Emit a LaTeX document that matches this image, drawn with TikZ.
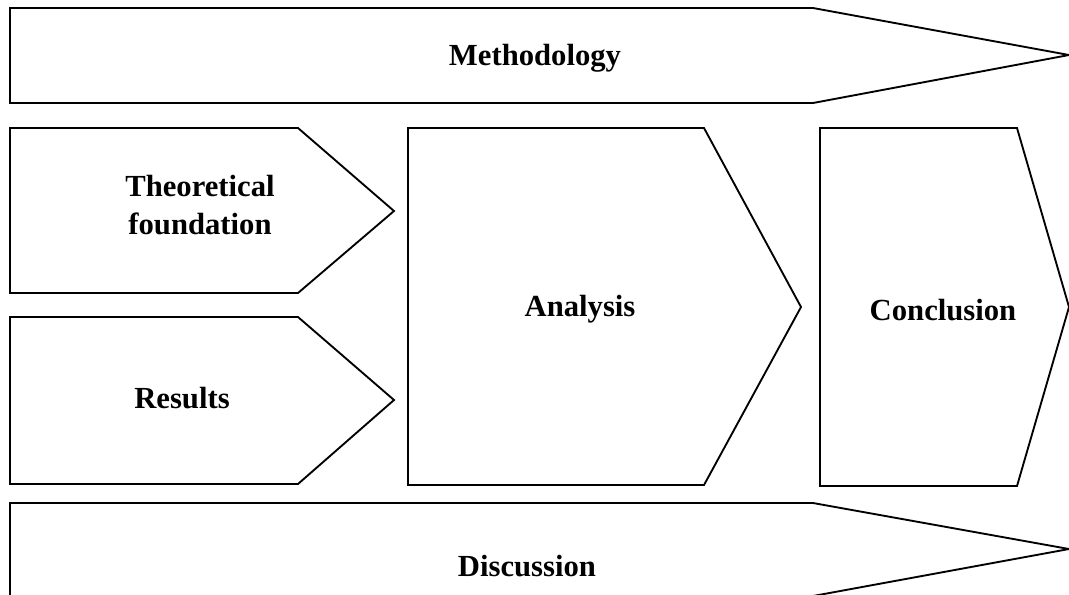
\documentclass[tikz,border=0pt]{standalone}
\usepackage{fontspec}
\setmainfont{Liberation Serif}
\begin{document}
\begin{tikzpicture}[x=0.75pt,y=-0.75pt,
  blockshape/.style={draw=black,line width=1.4pt,fill=white,line join=miter},
  label/.style={font=\fontsize{23}{29}\selectfont\bfseries,align=center,inner sep=0pt}]
\useasboundingbox (0,0) rectangle (1069,594);
\begin{scope}
\clip (0,0) rectangle (1069,594);
% top band
\draw[blockshape] (10,8) -- (813,8) -- (1069,55) -- (813,103) -- (10,103) -- cycle;
% left column
\draw[blockshape] (10,128) -- (298,128) -- (394,211) -- (298,293) -- (10,293) -- cycle;
\draw[blockshape] (10,317) -- (298,317) -- (394,400) -- (298,484) -- (10,484) -- cycle;
% middle and right blocks
\draw[blockshape] (408,128) -- (704,128) -- (801,307) -- (704,485) -- (408,485) -- cycle;
\draw[blockshape] (820,128) -- (1017,128) -- (1069,307) -- (1017,486) -- (820,486) -- cycle;
% bottom band
\draw[blockshape] (10,503) -- (813,503) -- (1069,549) -- (813,596) -- (10,596) -- cycle;
\end{scope}
\node[label] (meth) at (535,58) {Methodology};
\node[label] (theo) at (200,205) {Theoretical\\foundation};
\node[label] (res) at (182,398) {Results};
\node[label] (ana) at (580,309) {Analysis};
\node[label] (conc) at (943,310) {Conclusion};
\node[label] (disc) at (527,566) {Discussion};
\end{tikzpicture}
\end{document}
